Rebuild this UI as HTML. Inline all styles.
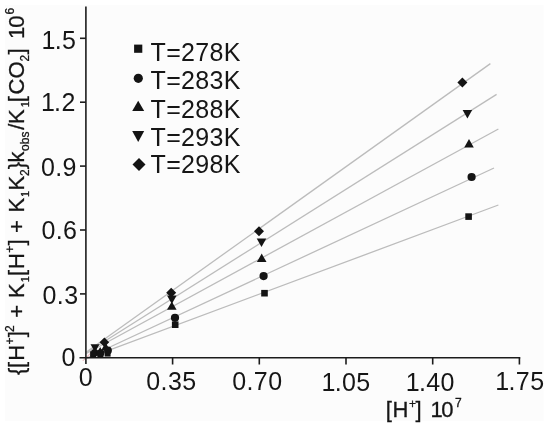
<!DOCTYPE html>
<html><head><meta charset="utf-8"><title>chart</title>
<style>
html,body{margin:0;padding:0;background:#fff;}
body{width:550px;height:427px;overflow:hidden;position:relative;}
svg{position:absolute;left:0;top:0;display:block;}
text{font-family:"Liberation Sans",Arial,sans-serif;fill:#161616;}
</style></head><body>
<svg width="550" height="427" viewBox="0 0 550 427">
<rect x="0" y="0" width="550" height="427" fill="#ffffff"/>
<rect x="5" y="4.8" width="538.5" height="416.2" fill="#fcfcfc"/>

<g stroke="#bcbcbc" stroke-width="1.3" fill="none" stroke-linecap="butt">
<line x1="86.4" y1="352.0" x2="490.4" y2="63.6"/>
<line x1="86.4" y1="352.7" x2="496.6" y2="94.4"/>
<line x1="86.4" y1="353.5" x2="498.4" y2="129"/>
<line x1="86.4" y1="358.0" x2="494" y2="168"/>
<line x1="86.4" y1="358.7" x2="498.4" y2="205"/>
</g>
<line x1="82.9" y1="360.8" x2="90.9" y2="352.8" stroke="#e9a0a8" stroke-width="1"/>
<g stroke="#1c1c1c" stroke-width="1.6" fill="none">
<line x1="85.9" y1="6.5" x2="85.9" y2="364"/>
<line x1="79.5" y1="357.8" x2="520.3" y2="357.8"/>
<line x1="80" y1="293.9" x2="85.9" y2="293.9"/>
<line x1="80" y1="230.0" x2="85.9" y2="230.0"/>
<line x1="80" y1="166.1" x2="85.9" y2="166.1"/>
<line x1="80" y1="102.2" x2="85.9" y2="102.2"/>
<line x1="80" y1="38.3" x2="85.9" y2="38.3"/>
<line x1="172.6" y1="357.8" x2="172.6" y2="364.5"/>
<line x1="259.3" y1="357.8" x2="259.3" y2="364.5"/>
<line x1="346.0" y1="357.8" x2="346.0" y2="364.5"/>
<line x1="432.7" y1="357.8" x2="432.7" y2="364.5"/>
<line x1="519.4" y1="357.8" x2="519.4" y2="364.5"/>
</g>
<g fill="#141414" stroke="none">
<polygon points="457.4,82.6 462.4,77.6 467.4,82.6 462.4,87.6"/>
<polygon points="462.6,110.1 472.2,110.1 467.4,118.5"/>
<polygon points="464.2,147.4 473.8,147.4 469.0,139.0"/>
<circle cx="471.6" cy="177.0" r="4.1"/>
<rect x="465.3" y="213.3" width="6.6" height="6.6"/>
<polygon points="254.0,231.2 259.0,226.2 264.0,231.2 259.0,236.2"/>
<polygon points="256.7,238.6 266.3,238.6 261.5,247.0"/>
<polygon points="256.9,262.0 266.5,262.0 261.7,253.6"/>
<circle cx="263.6" cy="276.1" r="4.1"/>
<rect x="261.2" y="289.9" width="6.6" height="6.6"/>
<polygon points="166.2,292.8 171.2,287.8 176.2,292.8 171.2,297.8"/>
<polygon points="167.0,295.6 176.6,295.6 171.8,304.0"/>
<polygon points="167.0,309.8 176.6,309.8 171.8,301.4"/>
<circle cx="175.0" cy="317.8" r="4.1"/>
<rect x="171.9" y="321.4" width="6.6" height="6.6"/>
<polygon points="90.5,344.2 99.5,344.2 95.0,352.2"/>
<polygon points="90.3,355.8 98.9,355.8 94.6,348.2"/>
<circle cx="94.8" cy="352.6" r="3.7"/>
<rect x="90.1" y="351.3" width="6.2" height="6.2"/>
<polygon points="95.8,352.6 100.0,348.4 104.2,352.6 100.0,356.8"/>
<rect x="97.3" y="351.4" width="6.2" height="6.2"/>
<polygon points="96.2,354.1 104.2,354.1 100.2,347.1"/>
<circle cx="100.8" cy="353.0" r="3.6"/>
<polygon points="99.6,342.2 104.4,337.4 109.2,342.2 104.4,347.0"/>
<polygon points="101.1,350.6 110.1,350.6 105.6,342.6"/>
<circle cx="108.0" cy="350.4" r="3.9"/>
<rect x="104.6" y="350.6" width="6" height="6"/>
<rect x="134.1" y="44.6" width="8.2" height="8.2"/>
<circle cx="138.3" cy="78.3" r="4.6"/>
<polygon points="132.2,110.9 144.2,110.9 138.2,100.7"/>
<polygon points="132.2,130.9 144.2,130.9 138.2,141.9"/>
<polygon points="132.5,164.5 139.0,158.0 145.5,164.5 139.0,171.0"/>
</g>
<text x="150.6" y="60.5" font-size="25" letter-spacing="0.3">T=278K</text>
<text x="150.6" y="89" font-size="25" letter-spacing="0.3">T=283K</text>
<text x="150.6" y="117.5" font-size="25" letter-spacing="0.3">T=288K</text>
<text x="150.6" y="145.5" font-size="25" letter-spacing="0.3">T=293K</text>
<text x="150.6" y="172.9" font-size="25" letter-spacing="0.3">T=298K</text>
<text x="40.4" y="48.9" font-size="25" letter-spacing="0.4"><tspan dx="1.1">1</tspan><tspan dx="-1.1">.5</tspan></text>
<text x="39.8" y="111.2" font-size="25" letter-spacing="0.4"><tspan dx="1.1">1</tspan><tspan dx="-1.1">.2</tspan></text>
<text x="40.9" y="176.3" font-size="25" letter-spacing="0.4">0.9</text>
<text x="41.4" y="239.4" font-size="25" letter-spacing="0.4">0.6</text>
<text x="42.5" y="304.3" font-size="25" letter-spacing="0.4">0.3</text>
<text x="61.4" y="366.0" font-size="25" letter-spacing="0.4">0</text>
<text x="78.7" y="385.7" font-size="25" letter-spacing="0.4">0</text>
<text x="146.3" y="390.0" font-size="25" letter-spacing="0.4">0.35</text>
<text x="232.2" y="390.0" font-size="25" letter-spacing="0.4">0.70</text>
<text x="320.4" y="391.0" font-size="25" letter-spacing="0.4"><tspan dx="1.1">1</tspan><tspan dx="-1.1">.05</tspan></text>
<text x="404.6" y="390.8" font-size="25" letter-spacing="0.4"><tspan dx="1.1">1</tspan><tspan dx="-1.1">.40</tspan></text>
<text x="494.2" y="390.2" font-size="25" letter-spacing="0.4"><tspan dx="1.1">1</tspan><tspan dx="-1.1">.75</tspan></text>
<text font-size="22" y="417.4" stroke="#161616" stroke-width="0.3"><tspan x="385.7">[</tspan><tspan x="392.5">H</tspan><tspan x="409.0" dy="-9.5" font-size="12">+</tspan><tspan x="415.6" dy="9.5">] </tspan><tspan x="430.4">1</tspan><tspan x="441.2">0</tspan><tspan x="455.1" dy="-10.6" font-size="12">7</tspan></text>
<text transform="translate(24.2,376) rotate(-90)" font-size="22" stroke="#161616" stroke-width="0.3"><tspan x="0.9" y="0">{</tspan><tspan x="8.0" y="0">[</tspan><tspan x="15.3" y="0">H</tspan><tspan x="31.6" y="-10.5" font-size="12">+</tspan><tspan x="38.7" y="0">]</tspan><tspan x="44.1" y="-10.5" font-size="12">2 </tspan><tspan x="58.3" y="0">+ </tspan><tspan x="78.0" y="0">K</tspan><tspan x="93.7" y="4.8" font-size="11">1</tspan><tspan x="100.1" y="0">[</tspan><tspan x="107.1" y="0">H</tspan><tspan x="123.3" y="-10.5" font-size="12">+</tspan><tspan x="130.5" y="0">] </tspan><tspan x="143.0" y="0">+ </tspan><tspan x="163.5" y="0">K</tspan><tspan x="179.1" y="4.8" font-size="11">1</tspan><tspan x="185.4" y="0">K</tspan><tspan x="200.1" y="5" font-size="12">2</tspan><tspan x="206.7" y="0">}</tspan><tspan x="213.5" y="0">k</tspan><tspan x="225.1" y="5" font-size="12">obs</tspan><tspan x="246.3" y="0">/</tspan><tspan x="252.0" y="0">K</tspan><tspan x="268.8" y="4.8" font-size="11">1</tspan><tspan x="273.8" y="0">[</tspan><tspan x="281.6" y="0">C</tspan><tspan x="297.4" y="0">O</tspan><tspan x="314.6" y="5" font-size="12">2</tspan><tspan x="321.4" y="0">] </tspan><tspan x="337.0" y="0">1</tspan><tspan x="348.3" y="0">0</tspan><tspan x="361.4" y="-10.5" font-size="12">6</tspan></text>
</svg>
</body></html>
